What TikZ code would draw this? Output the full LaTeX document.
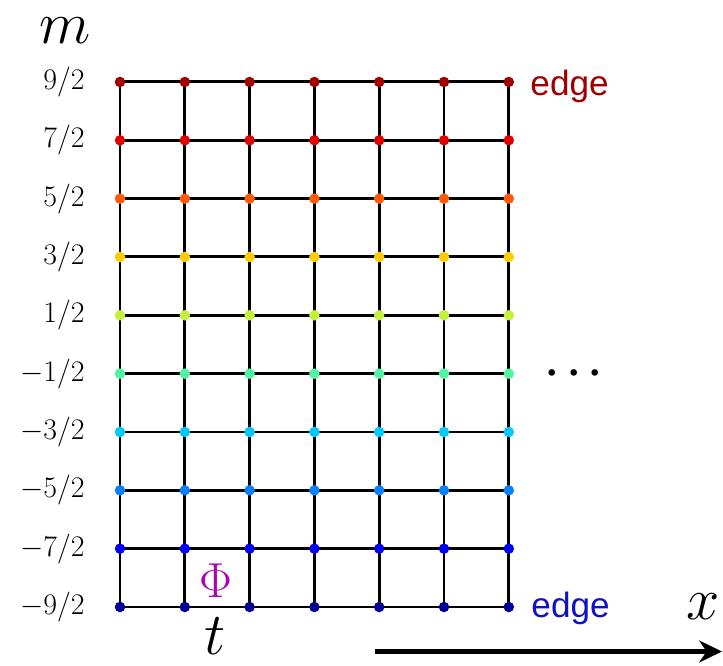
\RequirePackage{fix-cm}
\documentclass[tikz,border=0pt]{standalone}
\usepackage{amsmath,amssymb}
\usepackage{fontspec}
\newfontfamily\edgefont{Liberation Sans}
\usetikzlibrary{arrows.meta, positioning, calc}
\definecolor{rowa}{HTML}{000096}
\definecolor{rowb}{HTML}{0000F5}
\definecolor{rowc}{HTML}{0A80FF}
\definecolor{rowd}{HTML}{00C8F8}
\definecolor{rowe}{HTML}{50F5A0}
\definecolor{rowf}{HTML}{C3F03C}
\definecolor{rowg}{HTML}{FFCC00}
\definecolor{rowh}{HTML}{FF5A0A}
\definecolor{rowi}{HTML}{E00000}
\definecolor{rowj}{HTML}{A00000}
\definecolor{edgeblue}{HTML}{1010C8}
\definecolor{phimag}{HTML}{B000B0}

\tikzset{
  site/.style={circle, fill=#1, inner sep=0pt, minimum size=0.21cm},
  mlabel/.style={anchor=east, inner sep=0pt, font=\fontsize{17}{20}\selectfont},
  biglabel/.style={inner sep=0pt, font=\fontsize{34}{40}\selectfont},
  edgelabel/.style={anchor=west, inner sep=0pt, text=#1, font=\edgefont\fontsize{20}{24}\selectfont},
}

\begin{document}
\begin{tikzpicture}[line width=1.7pt]

\useasboundingbox (0,0) rectangle (14.46,13.3);

% Lattice points
\foreach \i in {0,...,6} {
  \foreach \j in {0,...,9} {
    \coordinate (g-\i-\j) at ({2.4+1.296*\i},{1.16+1.1667*\j});
  }
}

% Grid lines
\foreach \j in {0,...,9} {
  \draw (g-0-\j) -- (g-6-\j);
}
\foreach \i in {0,...,6} {
  \draw (g-\i-0) -- (g-\i-9);
}

% Sites, coloured by row
\foreach \j/\c in {0/rowa,1/rowb,2/rowc,3/rowd,4/rowe,5/rowf,6/rowg,7/rowh,8/rowi,9/rowj} {
  \foreach \i in {0,...,6} {
    \node[site=\c] (s-\i-\j) at (g-\i-\j) {};
  }
}

% Row labels (numerators over 2)
\foreach \j/\n in {0/-9,1/-7,2/-5,3/-3,4/-1,5/1,6/3,7/5,8/7,9/9} {
  \node[mlabel] (lab-\j) at ($(g-0-\j)+(-0.68,0)$) {$\n/2$};
}

% Axis names
\node[biglabel] (mname) at (1.3,12.68) {$m$};
\node[biglabel] (tname) at (4.3,0.57) {$t$};
\node[biglabel] (xname) at (14.06,1.16) {$x$};

% Plaquette field
\node[text=phimag, inner sep=0pt, font=\fontsize{28}{32}\selectfont] (phi) at (4.32,1.68) {$\Phi$};

% Edge labels
\node[edgelabel=rowj] (edgetop) at (10.58,11.58) {edge};
\node[edgelabel=edgeblue] (edgebot) at (10.6,1.14) {edge};

% Continuation
\node[inner sep=0pt, font=\fontsize{24}{28}\selectfont] (more) at (11.56,5.82) {$\boldsymbol{\cdots}$};

% x direction
\coordinate (xs) at (7.5,0.27);
\coordinate (xe) at (14.44,0.27);
\draw[-{Stealth[length=13pt, width=12.5pt]}, line width=2.3pt] (xs) -- (xe);

\end{tikzpicture}
\end{document}
